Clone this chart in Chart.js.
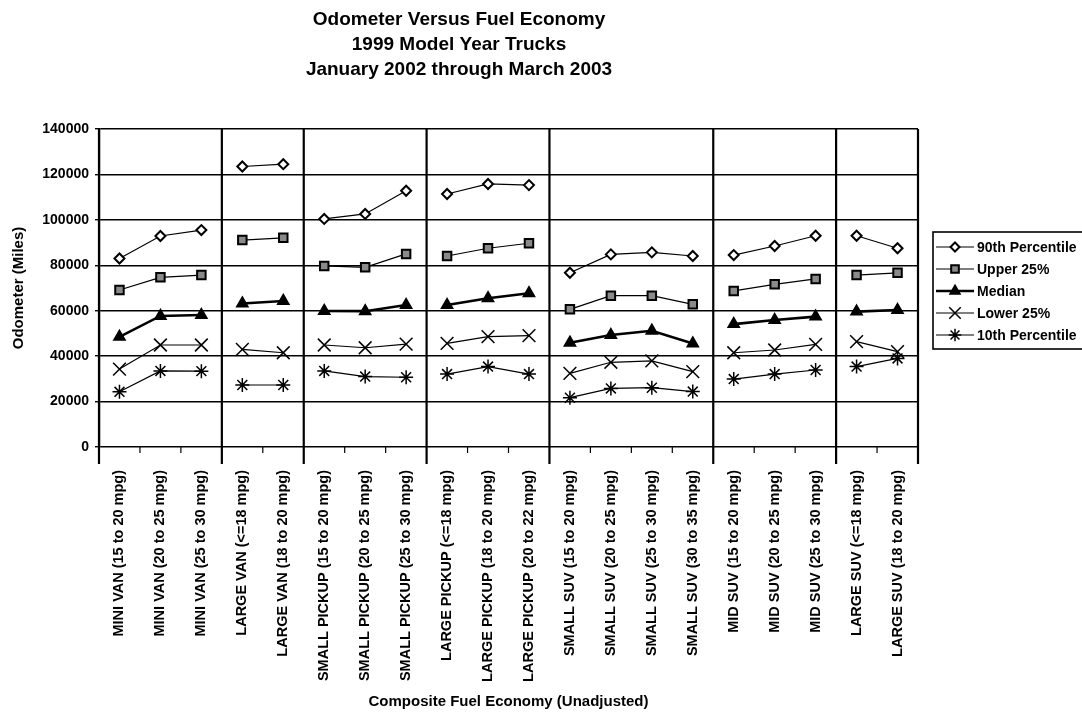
<!DOCTYPE html>
<html>
<head>
<meta charset="utf-8">
<script src="https://cdn.jsdelivr.net/npm/chart.js@4.4.1/dist/chart.umd.min.js"></script>
<style>
  html, body { margin: 0; padding: 0; background: #fff; }
  #wrap { width: 1082px; height: 714px; position: relative; }
</style>
</head>
<body>
<div id="wrap"><canvas id="c" width="1082" height="714"></canvas></div>
<script>
// Vehicle class / fuel economy bins along the x axis
const categories = [
  "MINI VAN (15 to 20 mpg)", "MINI VAN (20 to 25 mpg)", "MINI VAN (25 to 30 mpg)",
  "LARGE VAN (<=18 mpg)", "LARGE VAN (18 to 20 mpg)",
  "SMALL PICKUP (15 to 20 mpg)", "SMALL PICKUP (20 to 25 mpg)", "SMALL PICKUP (25 to 30 mpg)",
  "LARGE PICKUP (<=18 mpg)", "LARGE PICKUP (18 to 20 mpg)", "LARGE PICKUP (20 to 22 mpg)",
  "SMALL SUV (15 to 20 mpg)", "SMALL SUV (20 to 25 mpg)", "SMALL SUV (25 to 30 mpg)", "SMALL SUV (30 to 35 mpg)",
  "MID SUV (15 to 20 mpg)", "MID SUV (20 to 25 mpg)", "MID SUV (25 to 30 mpg)",
  "LARGE SUV (<=18 mpg)", "LARGE SUV (18 to 20 mpg)"
];
// Number of bins in each vehicle class, left to right
const groupSizes = [3, 2, 3, 3, 4, 3, 2];

// Odometer readings (miles)
const p90    = [83000, 92900, 95500, 123500, 124500, 100400, 102600, 112800, 111400, 115800, 115300, 76700, 84800, 85700, 84100, 84500, 88500, 93000, 93000, 87500];
const upper  = [69100, 74700, 75700, 91100, 92100, 79700, 79100, 85000, 84100, 87500, 89700, 60600, 66600, 66600, 62800, 68700, 71600, 74000, 75700, 76700];
const median = [48500, 57700, 58100, 63200, 64300, 59900, 59800, 62500, 62500, 65500, 67700, 45900, 49300, 51200, 45600, 54100, 55900, 57400, 59600, 60300];
const lower  = [34300, 44900, 44900, 43000, 41500, 44900, 43700, 45300, 45600, 48600, 49000, 32400, 37300, 37900, 33200, 41500, 42700, 45200, 46400, 42000];
const p10    = [24300, 33500, 33400, 27300, 27300, 33500, 31000, 30700, 32100, 35400, 32100, 21700, 25800, 26100, 24400, 29900, 32100, 33900, 35400, 39000];

const seriesNames = ["90th Percentile", "Upper 25%", "Median", "Lower 25%", "10th Percentile"];
const yTicks = [0, 20000, 40000, 60000, 80000, 100000, 120000, 140000];

const FONT = "'Liberation Sans', Arial, sans-serif";

// class index of every bin
const groupOf = [];
groupSizes.forEach((n, g) => { for (let i = 0; i < n; i++) groupOf.push(g); });
// bin boundaries where a new class starts
const groupEdges = [0];
groupSizes.forEach(n => groupEdges.push(groupEdges[groupEdges.length - 1] + n));

const segStyle = {
  borderColor: ctx => groupOf[ctx.p0DataIndex] === groupOf[ctx.p1DataIndex] ? '#000' : 'rgba(0,0,0,0)'
};

function series(label, data, style) {
  return Object.assign({
    label, data,
    borderColor: '#000',
    borderWidth: 1.2,
    pointBorderColor: '#000',
    pointBackgroundColor: '#000',
    pointBorderWidth: 1.5,
    pointHoverRadius: 0,
    tension: 0,
    segment: segStyle
  }, style);
}

const datasets = [
  series(seriesNames[0], p90,    { pointStyle: 'rectRot',  pointRadius: 5,   pointBackgroundColor: '#fff', pointBorderWidth: 2 }),
  series(seriesNames[1], upper,  { pointStyle: 'rect',     pointRadius: 6,   pointBackgroundColor: '#8a8a8a', pointBorderWidth: 2 }),
  series(seriesNames[2], median, { pointStyle: 'triangle', pointRadius: 6.5, borderWidth: 2.6 }),
  series(seriesNames[3], lower,  { pointStyle: 'crossRot', pointRadius: 9,   pointBorderWidth: 1.5 }),
  series(seriesNames[4], p10,    { pointStyle: 'star',     pointRadius: 7,   pointBorderWidth: 1.5 })
];

// Vertical class separators and x-axis tick marks
const separators = {
  id: 'separators',
  beforeDatasetsDraw(chart) {
    const { ctx, chartArea, scales: { x } } = chart;
    const half = (x.getPixelForValue(1) - x.getPixelForValue(0)) / 2;
    ctx.save();
    ctx.strokeStyle = '#000';
    for (let k = 0; k <= categories.length; k++) {
      const px = k < categories.length ? x.getPixelForValue(k) - half : x.getPixelForValue(k - 1) + half;
      ctx.beginPath();
      if (groupEdges.includes(k)) {
        ctx.lineWidth = 2.2;
        ctx.moveTo(px, chartArea.top);
        ctx.lineTo(px, chartArea.bottom + 17);
      } else {
        ctx.lineWidth = 1.2;
        ctx.moveTo(px, chartArea.bottom);
        ctx.lineTo(px, chartArea.bottom + 6);
      }
      ctx.stroke();
    }
    ctx.restore();
  }
};

// Boxed legend at the right
const boxLegend = {
  id: 'boxLegend',
  afterDraw(chart) {
    const { ctx } = chart;
    const left = 933, top = 232, rowH = 22, first = 247;
    ctx.save();
    ctx.strokeStyle = '#000';
    ctx.lineWidth = 1.6;
    ctx.strokeRect(left, top, 200, first - top + rowH * (datasets.length - 1) + 14);
    chart.data.datasets.forEach((ds, i) => {
      const y = first + rowH * i;
      ctx.beginPath();
      ctx.strokeStyle = '#000';
      ctx.lineWidth = ds.borderWidth;
      ctx.moveTo(936, y);
      ctx.lineTo(974, y);
      ctx.stroke();
      ctx.fillStyle = ds.pointBackgroundColor;
      ctx.strokeStyle = '#000';
      ctx.lineWidth = ds.pointBorderWidth;
      Chart.helpers.drawPoint(ctx, {
        pointStyle: ds.pointStyle, radius: ds.pointRadius * 0.9, rotation: 0, borderWidth: ds.pointBorderWidth
      }, 955, y);
      ctx.fillStyle = '#000';
      ctx.font = 'bold 14px ' + FONT;
      ctx.textBaseline = 'middle';
      ctx.textAlign = 'left';
      ctx.fillText(ds.label, 977, y + 1);
    });
    ctx.restore();
  }
};

new Chart(document.getElementById('c'), {
  type: 'line',
  data: { labels: categories, datasets },
  plugins: [separators, boxLegend],
  options: {
    responsive: false,
    animation: false,
    events: [],
    layout: { padding: { left: 0, right: 164, top: 0, bottom: 0 } },
    plugins: {
      legend: { display: false },
      tooltip: { enabled: false },
      title: {
        display: true,
        text: ['Odometer Versus Fuel Economy', '1999 Model Year Trucks', 'January 2002 through March 2003'],
        color: '#000',
        font: { family: FONT, size: 19, weight: 'bold', lineHeight: 1.3 },
        padding: { top: 7.6, bottom: 47.3 }
      }
    },
    scales: {
      x: {
        type: 'category',
        offset: true,
        grid: { display: false },
        border: { display: false },
        ticks: {
          autoSkip: false,
          minRotation: 90,
          maxRotation: 90,
          padding: 15,
          color: '#000',
          font: { family: FONT, size: 14.5, weight: 'bold' }
        },
        title: {
          display: true,
          text: 'Composite Fuel Economy (Unadjusted)',
          color: '#000',
          font: { family: FONT, size: 15, weight: 'bold', lineHeight: 1.2 },
          padding: { top: 0, bottom: 3 }
        },
        afterFit(scale) { scale.height = 267; }
      },
      y: {
        min: 0,
        max: 140000,
        afterBuildTicks(scale) { scale.ticks = yTicks.map(v => ({ value: v })); },
        grid: { color: '#000', lineWidth: 1.4, drawTicks: true, tickLength: 4, tickColor: '#000' },
        border: { display: true, color: '#000', width: 2.2 },
        ticks: {
          padding: 6,
          color: '#000',
          font: { family: FONT, size: 14, weight: 'bold' },
          callback: v => String(v)
        },
        title: {
          display: true,
          text: 'Odometer (Miles)',
          color: '#000',
          font: { family: FONT, size: 15, weight: 'bold', lineHeight: 1.2 },
          padding: { top: 9.5, bottom: 0 }
        },
        afterFit(scale) { scale.width = 99; }
      }
    }
  }
});
</script>
</body>
</html>
